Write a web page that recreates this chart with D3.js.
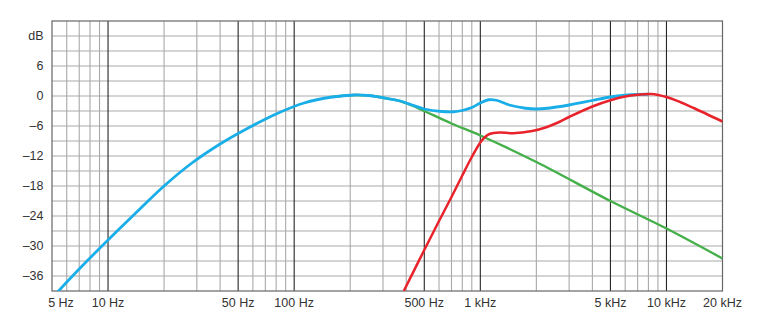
<!DOCTYPE html>
<html><head><meta charset="utf-8">
<script src="https://cdn.jsdelivr.net/npm/d3@7"></script>
<style>body{margin:0;background:#fff}svg{display:block}</style></head>
<body><svg id="c" width="765" height="332"></svg>
<script>
// ---- data ----
const xTickValues = [5, 10, 50, 100, 500, 1000, 5000, 10000, 20000];
const xTickLabels = ["5 Hz", "10 Hz", "50 Hz", "100 Hz", "500 Hz", "1 kHz", "5 kHz", "10 kHz", "20 kHz"];
const majorFreqs = [10, 50, 100, 500, 1000, 5000, 10000];
const yTickValues = [12, 6, 0, -6, -12, -18, -24, -30, -36];
const yTickLabels = ["dB", "6", "0", "–6", "–12", "–18", "–24", "–30", "–36"];

const blueFreq = [5, 7, 10, 14, 20, 28, 40, 56, 80, 113, 160, 210, 250, 300, 366, 430, 500, 620, 720, 800, 900, 1000, 1110, 1220, 1430, 1750, 2000, 2300, 3000, 4000, 5000, 6000, 7000, 8000];
const blueDb   = [-40.4, -34.6, -28.8, -23.5, -18.0, -13.5, -9.6, -6.5, -3.6, -1.4, -0.2, 0.2, 0.1, -0.35, -0.95, -1.8, -2.6, -3.1, -3.15, -2.9, -2.3, -1.4, -0.75, -0.85, -1.8, -2.45, -2.6, -2.45, -1.8, -0.9, -0.2, 0.15, 0.3, 0.35];

const greenFreq = [160, 210, 250, 300, 366, 430, 500, 700, 1000, 2000, 5000, 10000, 20000];
const greenDb   = [-0.2, 0.2, 0.1, -0.35, -0.95, -1.9, -3.0, -5.5, -7.9, -13.2, -21, -26.5, -32.5];

const redFreq = [388, 500, 600, 700, 800, 900, 1000, 1060, 1120, 1270, 1500, 1900, 2240, 2650, 3000, 4000, 5000, 6000, 7000, 8300, 10000, 12000, 14000, 20000];
const redDb   = [-39, -30.8, -25.0, -20.2, -15.9, -12.2, -9.3, -8.2, -7.6, -7.3, -7.45, -7.0, -6.3, -5.2, -4.2, -2.1, -0.85, -0.1, 0.25, 0.4, -0.2, -1.3, -2.4, -5.1];

// ---- layout ----
const svg = d3.select("#c");
const x = d3.scaleLog().domain([5, 20000]).range([52, 722.5]);
const y = d3.scaleLinear().domain([-39, 15]).range([291, 21]);

// grid
const minor = [];
for (let e = 0; e <= 4; e++) for (let k = 1; k <= 9; k++) {
  const f = k * Math.pow(10, e);
  if (f > 5 && f < 20000) minor.push(f);
}
const hLines = d3.range(-36, 15, 3);

const g = svg.append("g");
g.selectAll(".hl").data(hLines).join("line")
  .attr("x1", x(5)).attr("x2", x(20000))
  .attr("y1", d => y(d)).attr("y2", d => y(d))
  .attr("stroke", "#a9a9a9").attr("stroke-width", 1.1);
g.selectAll(".vl").data(minor.filter(f => !majorFreqs.includes(f))).join("line")
  .attr("x1", d => x(d)).attr("x2", d => x(d))
  .attr("y1", y(15)).attr("y2", y(-39))
  .attr("stroke", "#a9a9a9").attr("stroke-width", 1.1);
g.selectAll(".vm").data(majorFreqs).join("line")
  .attr("x1", d => x(d)).attr("x2", d => x(d))
  .attr("y1", y(15)).attr("y2", y(-39))
  .attr("stroke", "#262626").attr("stroke-width", 1.1);
g.append("rect")
  .attr("x", x(5)).attr("y", y(15))
  .attr("width", x(20000) - x(5)).attr("height", y(-39) - y(15))
  .attr("fill", "none").attr("stroke", "#666").attr("stroke-width", 1.2);

// clip
svg.append("clipPath").attr("id", "clip").append("rect")
  .attr("x", x(5)).attr("y", y(15))
  .attr("width", x(20000) - x(5)).attr("height", y(-39) - y(15));

const line = d3.line().x(d => x(d[0])).y(d => y(d[1])).curve(d3.curveCatmullRom.alpha(0.5));
const curves = svg.append("g").attr("clip-path", "url(#clip)");
curves.append("path").datum(d3.zip(greenFreq, greenDb)).attr("d", line)
  .attr("fill", "none").attr("stroke", "#45b04a").attr("stroke-width", 2.4);
curves.append("path").datum(d3.zip(blueFreq, blueDb)).attr("d", line)
  .attr("fill", "none").attr("stroke", "#1aaee8").attr("stroke-width", 2.8);
curves.append("path").datum(d3.zip(redFreq, redDb)).attr("d", line)
  .attr("fill", "none").attr("stroke", "#e8232b").attr("stroke-width", 2.5);

// labels
const font = "'Liberation Sans', Arial, Helvetica, sans-serif";
svg.append("g").selectAll("text").data(yTickValues).join("text")
  .attr("x", 43.5).attr("y", d => y(d)).attr("dy", "0.35em")
  .attr("text-anchor", "end").attr("font-family", font).attr("font-size", 12.5)
  .attr("fill", "#333").text((d, i) => yTickLabels[i]);
svg.append("g").selectAll("text").data(xTickValues).join("text")
  .attr("x", (d, i) => x(d) + (i === 0 ? 9 : 0)).attr("y", 307)
  .attr("text-anchor", "middle").attr("font-family", font).attr("font-size", 12.5)
  .attr("fill", "#333").text((d, i) => xTickLabels[i]);
</script></body></html>
